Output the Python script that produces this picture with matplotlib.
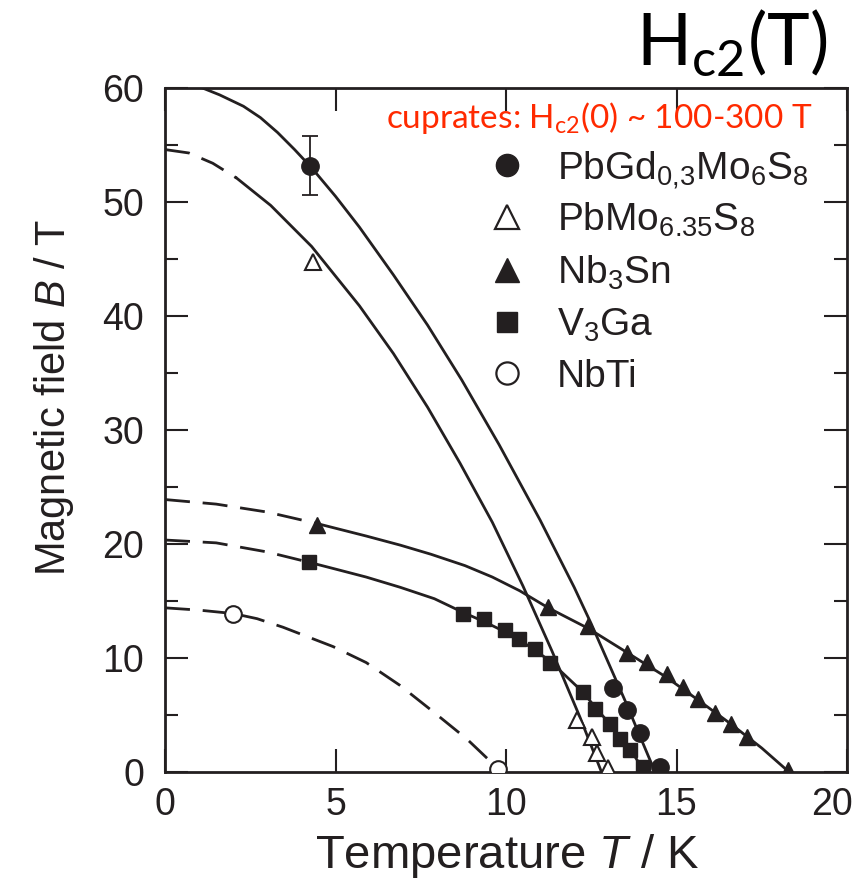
import numpy as np
import matplotlib
matplotlib.use('Agg')
from matplotlib import pyplot as plt
from matplotlib.transforms import ScaledTranslation

plt.rcParams['font.family'] = ['Liberation Sans', 'DejaVu Sans']
plt.rcParams['mathtext.fontset'] = 'custom'
plt.rcParams['mathtext.rm'] = 'Liberation Sans'
plt.rcParams['mathtext.it'] = 'Liberation Sans:italic'
plt.rcParams['mathtext.bf'] = 'Liberation Sans:bold'

INK = '#231F20'
RED = '#FF2A00'

# --- measured points (T in K, B in T) ---
pbgd_T = [4.25, 13.14, 13.55, 13.93, 14.52]
pbgd_B = [53.2, 7.4, 5.4, 3.4, 0.4]
pbgd_err = 2.55  # error bar on the 4.2 K point

pbmo_T = [4.34, 12.08, 12.52, 12.67, 12.99]
pbmo_B = [44.7, 4.6, 3.1, 1.7, 0.35]

nb3sn_T = [4.45, 11.24, 12.41, 13.54, 14.13, 14.71, 15.18, 15.64, 16.13, 16.6, 17.06, 18.28]
nb3sn_B = [21.7, 14.45, 12.8, 10.46, 9.67, 8.6, 7.48, 6.38, 5.2, 4.21, 3.04, 0.18]

v3ga_T = [4.22, 8.74, 9.35, 9.97, 10.38, 10.85, 11.3, 12.26, 12.61, 13.05, 13.34, 13.64, 14.02]
v3ga_B = [18.4, 13.9, 13.4, 12.5, 11.7, 10.8, 9.6, 7.0, 5.5, 4.2, 2.9, 1.9, 0.4]

nbti_T = [2.0, 9.77]
nbti_B = [13.9, 0.3]

# --- fit curves (ext = dashed extrapolation) ---
pbgd_fit_T = [0.6, 1.1, 1.6, 2.3, 2.8, 3.3, 3.8, 4.3, 5.0, 5.7, 6.7, 7.7, 8.7, 9.8, 11.0, 12.0, 12.5, 13.5, 14.37]
pbgd_fit_B = [60.4, 60.0, 59.4, 58.4, 57.4, 56.1, 54.6, 53.0, 50.5, 47.8, 43.6, 39.2, 34.4, 28.7, 22.1, 16.2, 13.0, 6.2, 0.0]

pbmo_ext_T = [0.0, 0.7, 1.4, 2.1]
pbmo_ext_B = [54.6, 54.3, 53.4, 52.1]
pbmo_fit_T = [2.1, 3.1, 4.3, 5.7, 6.7, 7.7, 8.65, 9.6, 10.5, 11.35, 12.17, 12.8]
pbmo_fit_B = [52.1, 49.7, 46.1, 40.9, 36.7, 32.0, 27.1, 21.9, 16.3, 10.6, 4.8, 0.0]

nb3sn_ext_T = [0.0, 1.5, 3.0, 4.45]
nb3sn_ext_B = [23.9, 23.5, 22.8, 21.8]
nb3sn_fit_T = [4.45, 5.9, 6.9, 7.8, 8.8, 9.6, 10.4, 11.24, 12.41, 13.54, 14.71, 15.64, 16.6, 17.5, 18.3]
nb3sn_fit_B = [21.8, 20.7, 19.9, 19.1, 18.1, 17.1, 15.9, 14.4, 12.6, 10.5, 8.3, 6.3, 4.2, 2.1, 0.0]

v3ga_ext_T = [0.0, 1.5, 3.0, 4.22]
v3ga_ext_B = [20.35, 20.1, 19.3, 18.4]
v3ga_fit_T = [4.22, 5.0, 5.9, 6.9, 7.9, 8.74, 9.35, 9.97, 10.38, 10.85, 11.3, 12.26, 12.61, 13.05, 13.34, 13.64, 14.07]
v3ga_fit_B = [18.4, 17.8, 17.1, 16.2, 15.2, 14.0, 13.2, 12.3, 11.6, 10.7, 9.7, 7.0, 5.7, 4.2, 3.1, 2.0, 0.0]

nbti_ext_T = [0.0, 1.0, 2.0, 2.7, 3.46, 4.93, 5.9, 6.89, 7.86, 8.85, 9.8]
nbti_ext_B = [14.4, 14.2, 13.9, 13.45, 12.7, 11.0, 9.6, 7.6, 5.3, 2.9, 0.2]

labels = [r'PbGd$_{\mathregular{0{,}3}}$Mo$_{\mathregular{6}}$S$_{\mathregular{8}}$',
          r'PbMo$_{\mathregular{6.35}}$S$_{\mathregular{8}}$',
          r'Nb$_{\mathregular{3}}$Sn',
          r'V$_{\mathregular{3}}$Ga',
          'NbTi']

fig = plt.figure(figsize=(8.65, 8.93), dpi=100)
ax = fig.add_axes([165/865, 1-772/893, 682/865, 684/893])

dash = (0, (9, 4.6))
lw = 2.0
# solid fits
for t, b in [(pbgd_fit_T, pbgd_fit_B), (pbmo_fit_T, pbmo_fit_B),
             (nb3sn_fit_T, nb3sn_fit_B), (v3ga_fit_T, v3ga_fit_B)]:
    ax.plot(t, b, color=INK, lw=lw, solid_joinstyle='round')
# dashed extrapolations
for t, b in [(pbmo_ext_T, pbmo_ext_B), (nb3sn_ext_T, nb3sn_ext_B),
             (v3ga_ext_T, v3ga_ext_B), (nbti_ext_T, nbti_ext_B)]:
    ax.plot(t, b, color=INK, lw=lw, linestyle=dash)

# data
ax.errorbar(pbgd_T[0], pbgd_B[0], yerr=pbgd_err, fmt='none', ecolor=INK,
            elinewidth=1.3, capsize=6, capthick=1.3, zorder=4)
ax.plot(pbgd_T, pbgd_B, 'o', ms=12.5, color=INK, zorder=5)
ax.plot(pbmo_T, pbmo_B, '^', ms=12, mfc='white', mec=INK, mew=1.5, zorder=5)
ax.plot(nb3sn_T, nb3sn_B, '^', ms=12, color=INK, zorder=5)
ax.plot(v3ga_T, v3ga_B, 's', ms=10.5, color=INK, zorder=5)
ax.plot(nbti_T, nbti_B, 'o', ms=12, mfc='white', mec=INK, mew=1.5, zorder=5)

ax.set_xlim(0, 20)
ax.set_ylim(0, 60)
ax.set_xticks([0, 5, 10, 15, 20])
ax.set_yticks([0, 10, 20, 30, 40, 50, 60])
ax.set_yticks(np.arange(5, 60, 10), minor=True)
ax.tick_params(which='both', direction='in', top=True, right=True, width=1.5, color=INK)
ax.tick_params(which='major', length=16.5, labelsize=27, labelcolor=INK)
ax.tick_params(axis='x', which='major', pad=11)
ax.tick_params(axis='y', which='major', pad=15)
ax.tick_params(which='minor', length=9.5)
for s in ax.spines.values():
    s.set_linewidth(2.0)
    s.set_color(INK)

# keep the "20" inside the figure
fig.canvas.draw()
last = ax.get_xticklabels()[-1]
last.set_transform(last.get_transform() + ScaledTranslation(-15/100, 0, fig.dpi_scale_trans))

# axis labels
fig.text(507/865, 1-868/893, r'Temperature $\mathit{T}$ / K', ha='center', va='baseline',
         fontsize=34, color=INK)
fig.text(54/865, 1-397/893, r'Magnetic field $\mathit{B}$ / T', ha='center', va='center',
         rotation=90, fontsize=30, color=INK)

# legend, drawn by hand
leg_marks = [dict(marker='o', mfc=INK, mec=INK, ms=16),
             dict(marker='^', mfc='white', mec=INK, ms=17, mew=1.6),
             dict(marker='^', mfc=INK, mec=INK, ms=17),
             dict(marker='s', mfc=INK, mec=INK, ms=15),
             dict(marker='o', mfc='white', mec=INK, ms=16, mew=1.6)]
row_px = [165, 217, 270, 322, 373]
for lab, mk, yp in zip(labels, leg_marks, row_px):
    ya = (772 - yp) / 684
    ax.plot([(507-165)/682], [ya], transform=ax.transAxes, ls='none', clip_on=False, **mk)
    ax.text((557-165)/682, (772 - yp - 14) / 684, lab, transform=ax.transAxes,
            ha='left', va='baseline', fontsize=28, color=INK)

# annotations
fig.text(812/865, 1-128/893, r'cuprates: H$_{\mathregular{c2}}$(0) ~ 100-300 T',
         family=['Lato', 'DejaVu Sans'], fontsize=24, color=RED, ha='right', va='baseline')
fig.text(827/865, 1-65/893, r'H$_{\mathregular{c2}}$(T)', family=['Lato', 'DejaVu Sans'],
         fontsize=52, color='black', ha='right', va='baseline')

fig.savefig('out.png', dpi=100)
